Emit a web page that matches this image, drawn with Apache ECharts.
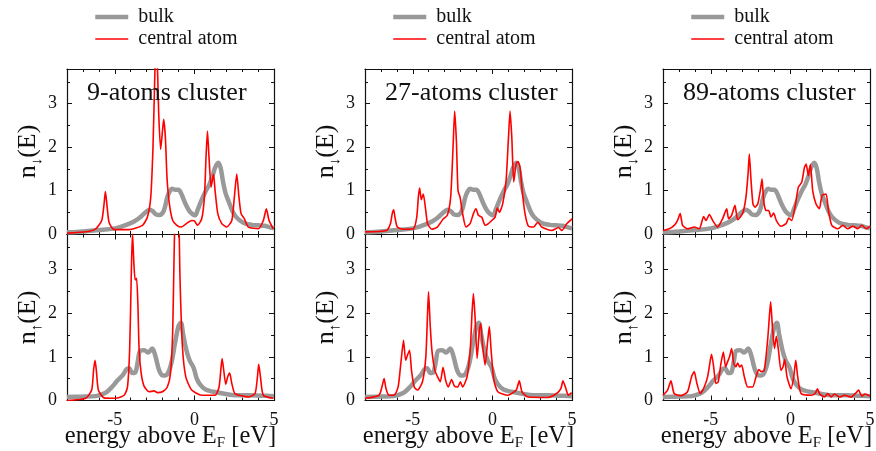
<!DOCTYPE html>
<html>
<head>
<meta charset="utf-8">
<script src="https://cdn.jsdelivr.net/npm/echarts@6/dist/echarts.min.js"></script>
<style>
html, body { margin: 0; padding: 0; background: #fff; }
#chart-container { width: 876px; height: 451px; }
</style>
</head>
<body>
<div id="chart-container"></div>
<script>
// panel labels and ticks
const clusterNames = ['9-atoms cluster', '27-atoms cluster', '89-atoms cluster'];
const xMajorTicks = [-5, 0, 5];
const xMinorTicks = [-7, -6, -4, -3, -2, -1, 1, 2, 3, 4];
const yMajorTicks = [0, 1, 2, 3];
const yMinorTicks = [0.5, 1.5, 2.5, 3.5];

// bulk DOS (same reference in every column), [energy, n]
const bulkDown = [[-8,0.04],[-7,0.06],[-6,0.09],[-5,0.13],[-4.5,0.18],[-4,0.25],[-3.6,0.33],[-3.3,0.42],[-3,0.52],[-2.8,0.56],[-2.6,0.52],[-2.4,0.45],[-2.2,0.44],[-2,0.48],[-1.85,0.62],[-1.7,0.85],[-1.55,0.98],[-1.4,1.04],[-1.2,1.02],[-1,1.02],[-0.85,0.95],[-0.7,0.82],[-0.5,0.65],[-0.3,0.52],[-0.1,0.45],[0.05,0.43],[0.2,0.55],[0.45,0.78],[0.7,0.98],[0.95,1.15],[1.15,1.35],[1.3,1.53],[1.5,1.64],[1.65,1.52],[1.8,1.2],[1.95,0.95],[2.15,0.75],[2.4,0.52],[2.6,0.4],[2.9,0.3],[3.2,0.24],[3.6,0.21],[4,0.2],[4.4,0.19],[4.7,0.16],[5,0.13]];
const bulkUp = [[-8,0.08],[-7,0.09],[-6.2,0.1],[-5.6,0.17],[-5.2,0.3],[-4.85,0.45],[-4.5,0.58],[-4.25,0.72],[-4.1,0.74],[-3.9,0.63],[-3.7,0.65],[-3.55,0.9],[-3.4,1.14],[-3.15,1.15],[-2.9,1.1],[-2.65,1.19],[-2.45,1.02],[-2.2,0.68],[-1.95,0.57],[-1.7,0.6],[-1.45,0.85],[-1.2,1.35],[-1,1.7],[-0.85,1.78],[-0.7,1.5],[-0.5,1.15],[-0.3,0.92],[-0.05,0.75],[0.15,0.5],[0.35,0.37],[0.7,0.25],[1.2,0.2],[1.8,0.16],[2.6,0.12],[3.5,0.12],[4.2,0.11],[5,0.1]];

// central atom DOS per cluster
const atom9Down = [[-8,0.02],[-6.8,0.05],[-6.2,0.12],[-5.82,0.31],[-5.67,0.7],[-5.59,0.98],[-5.5,0.7],[-5.36,0.27],[-5.04,0.1],[-4.1,0.1],[-3.26,0.2],[-2.95,0.39],[-2.74,0.85],[-2.6,2.0],[-2.5,3.44],[-2.4,4.6],[-2.3,3.6],[-2.24,2.76],[-2.12,1.95],[-2.04,2.22],[-1.93,2.64],[-1.82,2.22],[-1.72,1.3],[-1.57,0.69],[-1.36,0.31],[-1.1,0.2],[-0.82,0.16],[-0.47,0.25],[-0.15,0.31],[0,0.3],[0.2,0.2],[0.46,0.35],[0.63,0.85],[0.73,1.76],[0.82,2.37],[0.92,1.76],[1.05,1.08],[1.2,1.38],[1.3,1.0],[1.47,0.47],[1.72,0.24],[2.03,0.16],[2.35,0.31],[2.51,0.85],[2.66,1.38],[2.8,0.85],[2.93,0.47],[3.14,0.35],[3.39,0.16],[4.02,0.12],[4.33,0.31],[4.52,0.58],[4.69,0.31],[4.96,0.12]];
const atom9Up = [[-8,0.0],[-6.83,0.05],[-6.45,0.24],[-6.33,0.7],[-6.24,0.92],[-6.16,0.7],[-6.03,0.24],[-5.67,0.06],[-4.94,0.05],[-4.41,0.12],[-4.2,0.31],[-4.06,1.23],[-3.97,2.76],[-3.89,3.85],[-3.8,3.14],[-3.72,2.76],[-3.63,2.8],[-3.55,2.22],[-3.47,1.15],[-3.34,0.62],[-3.16,0.33],[-2.84,0.2],[-2.53,0.22],[-2.32,0.18],[-2.01,0.2],[-1.7,0.31],[-1.5,0.62],[-1.36,1.61],[-1.26,3.6],[-1.12,5.0],[-1.0,4.6],[-0.9,2.76],[-0.75,1.23],[-0.54,0.54],[-0.17,0.24],[0.46,0.12],[1.3,0.12],[1.55,0.31],[1.66,0.7],[1.74,0.96],[1.84,0.7],[1.97,0.37],[2.09,0.54],[2.22,0.63],[2.35,0.39],[2.55,0.16],[3.39,0.08],[3.81,0.16],[3.96,0.54],[4.04,0.83],[4.15,0.54],[4.33,0.12],[4.96,0.05]];
const atom27Down = [[-8,0.05],[-6.65,0.08],[-6.4,0.24],[-6.29,0.47],[-6.2,0.56],[-6.12,0.39],[-5.97,0.16],[-5.6,0.11],[-4.96,0.12],[-4.75,0.39],[-4.65,0.85],[-4.57,1.06],[-4.46,0.79],[-4.34,0.92],[-4.21,0.62],[-4.07,0.24],[-3.81,0.11],[-3.46,0.16],[-3.08,0.35],[-2.83,0.43],[-2.62,0.85],[-2.47,2.0],[-2.37,2.83],[-2.26,2.14],[-2.16,1.0],[-2.03,0.85],[-1.87,0.47],[-1.66,0.16],[-1.4,0.24],[-1.19,0.47],[-1.03,0.58],[-0.88,0.43],[-0.67,0.39],[-0.46,0.2],[-0.25,0.24],[-0.04,0.31],[0.17,0.39],[0.31,0.6],[0.44,0.5],[0.65,0.7],[0.86,1.23],[1.01,2.22],[1.11,2.83],[1.22,2.22],[1.34,1.2],[1.49,1.61],[1.61,1.67],[1.74,1.53],[1.87,1.0],[2.05,0.47],[2.26,0.18],[2.58,0.16],[2.85,0.27],[3.1,0.16],[3.73,0.08],[4.15,0.15],[4.36,0.08],[4.68,0.24],[5,0.35]];
const atom27Up = [[-8,0.05],[-7.12,0.12],[-6.91,0.35],[-6.8,0.5],[-6.68,0.27],[-6.49,0.12],[-6.17,0.12],[-5.92,0.31],[-5.75,0.85],[-5.58,1.38],[-5.45,0.92],[-5.33,1.04],[-5.2,1.15],[-5.08,0.69],[-4.91,0.31],[-4.7,0.24],[-4.39,0.43],[-4.18,1.0],[-4.07,2.0],[-4.01,2.49],[-3.9,1.69],[-3.78,1.08],[-3.61,0.69],[-3.44,0.54],[-3.27,0.43],[-3.1,0.76],[-2.94,0.47],[-2.77,0.31],[-2.56,0.48],[-2.39,0.33],[-2.18,0.31],[-2.01,0.43],[-1.87,0.31],[-1.59,0.54],[-1.38,1.23],[-1.28,2.0],[-1.19,2.45],[-1.09,1.92],[-0.96,0.96],[-0.82,1.61],[-0.73,1.76],[-0.63,1.3],[-0.46,0.81],[-0.29,1.38],[-0.19,1.69],[-0.08,1.15],[0.09,0.47],[0.34,0.2],[0.97,0.12],[1.5,0.24],[1.69,0.45],[1.86,0.2],[2.24,0.08],[3.5,0.07],[4.03,0.16],[4.3,0.27],[4.43,0.45],[4.6,0.29],[4.77,0.12],[4.98,0.18]];
const atom89Down = [[-8,0.08],[-7.61,0.12],[-7.3,0.2],[-7.09,0.31],[-6.92,0.47],[-6.77,0.2],[-6.46,0.12],[-6.04,0.16],[-5.72,0.12],[-5.45,0.4],[-5.3,0.31],[-5.09,0.45],[-4.88,0.31],[-4.57,0.16],[-4.26,0.35],[-4.0,0.58],[-3.88,0.35],[-3.69,0.43],[-3.48,0.66],[-3.31,0.33],[-3.0,0.47],[-2.79,0.85],[-2.66,1.38],[-2.58,1.84],[-2.47,1.23],[-2.35,0.69],[-2.22,0.62],[-2.05,0.69],[-1.89,1.0],[-1.78,1.27],[-1.68,0.77],[-1.53,0.54],[-1.36,0.54],[-1.22,0.39],[-1.05,0.48],[-0.88,0.31],[-0.59,0.18],[-0.27,0.24],[-0.1,0.37],[0.08,0.31],[0.29,0.62],[0.5,1.08],[0.71,1.19],[0.88,1.53],[0.99,1.61],[1.13,1.34],[1.26,1.6],[1.4,1.0],[1.61,0.69],[1.82,0.58],[1.99,0.89],[2.24,0.92],[2.39,0.54],[2.6,0.2],[2.98,0.12],[3.29,0.2],[3.61,0.12],[3.92,0.18],[4.23,0.12],[4.49,0.2],[4.76,0.12],[5,0.18]];
const atom89Up = [[-8,0.12],[-7.71,0.24],[-7.5,0.45],[-7.3,0.16],[-6.88,0.11],[-6.46,0.2],[-6.21,0.54],[-6.04,0.66],[-5.87,0.39],[-5.66,0.16],[-5.41,0.31],[-5.2,0.54],[-5.03,0.92],[-4.95,1.06],[-4.82,0.77],[-4.68,0.39],[-4.53,0.43],[-4.36,0.85],[-4.21,1.11],[-4.07,0.77],[-3.94,0.89],[-3.82,1.0],[-3.69,1.19],[-3.56,0.85],[-3.42,0.77],[-3.31,0.86],[-3.19,0.77],[-3.06,0.81],[-2.89,0.54],[-2.68,0.31],[-2.37,0.31],[-2.16,0.54],[-1.99,0.71],[-1.84,0.66],[-1.64,0.69],[-1.43,1.38],[-1.32,1.92],[-1.24,2.26],[-1.13,1.69],[-1.0,1.19],[-0.88,1.47],[-0.75,1.15],[-0.59,0.69],[-0.46,0.77],[-0.36,0.94],[-0.21,0.54],[0.04,0.27],[0.21,0.54],[0.34,0.92],[0.46,0.54],[0.67,0.16],[1.3,0.12],[1.55,0.16],[1.7,0.27],[1.84,0.15],[2.14,0.08],[2.35,0.16],[2.56,0.08],[2.77,0.15],[3.08,0.08],[3.4,0.12],[3.82,0.08],[4.13,0.18],[4.28,0.24],[4.49,0.1],[4.7,0.15],[5,0.1]];

const atomDown = [atom9Down, atom27Down, atom89Down];
const atomUp = [atom9Up, atom27Up, atom89Up];

const FONT = '"Liberation Serif", "DejaVu Serif", serif';
const colLeft = [67, 365, 663];
const rowTop = [69, 234.5];
const rowHeight = [165, 166];
const plotWidth = 207;

var myChart = echarts.init(document.getElementById('chart-container'));

var grids = [], xAxes = [], yAxes = [], series = [], titles = [], legends = [];

var frameLine = { show: true, onZero: false, lineStyle: { color: '#111', width: 1.2 } };
var noLine = { show: false, onZero: false };

// one axis per side for the long ticks, one more for the short ticks
function xAxisFor(g, pos, ticks, len, main, labels, name) {
    return {
        gridIndex: g, type: 'value', min: -8, max: 5, position: pos,
        axisLine: main ? frameLine : noLine,
        axisTick: { show: true, inside: true, length: len, customValues: ticks, lineStyle: { color: '#111', width: 1 } },
        axisLabel: { show: labels, customValues: ticks, margin: 11, color: '#111', fontFamily: FONT, fontSize: 18 },
        splitLine: { show: false },
        name: name || '',
        nameLocation: 'middle', nameGap: 23, nameMoveOverlap: false,
        nameTextStyle: {
            rich: {
                n: { fontFamily: FONT, fontSize: 24.5, lineHeight: 27, color: '#111' },
                s: { fontFamily: FONT, fontSize: 15, lineHeight: 15, verticalAlign: 'bottom', color: '#111' }
            }
        }
    };
}
function yAxisFor(g, pos, ticks, len, main, labels, name) {
    return {
        gridIndex: g, type: 'value', min: 0, max: 3.8, position: pos,
        axisLine: main ? frameLine : noLine,
        axisTick: { show: true, inside: true, length: len, customValues: ticks, lineStyle: { color: '#111', width: 1 } },
        axisLabel: { show: labels, customValues: ticks, margin: 10, color: '#111', fontFamily: FONT, fontSize: 18 },
        splitLine: { show: false },
        name: name || '',
        nameLocation: 'middle', nameGap: 22, nameRotate: 90, nameMoveOverlap: false,
        nameTextStyle: {
            rich: {
                n: { fontFamily: FONT, fontSize: 26, lineHeight: 34, color: '#111' },
                s: { fontFamily: FONT, fontSize: 15, lineHeight: 15, verticalAlign: 'bottom', color: '#111' }
            }
        }
    };
}

for (let c = 0; c < 3; c++) {
    for (let r = 0; r < 2; r++) {
        const g = grids.length;
        grids.push({ left: colLeft[c], top: rowTop[r], width: plotWidth, height: rowHeight[r], outerBoundsMode: 'none' });

        const xName = r === 1 ? '{n|energy above E}{s|F}{n| [eV]}' : '';
        xAxes.push(xAxisFor(g, 'bottom', xMajorTicks, 5, true, r === 1, xName));
        xAxes.push(xAxisFor(g, 'bottom', xMinorTicks, 3, false, false));
        xAxes.push(xAxisFor(g, 'top', xMajorTicks, 5, true, false));
        xAxes.push(xAxisFor(g, 'top', xMinorTicks, 3, false, false));

        const yName = r === 0 ? '{n|n}{s|↓}{n|(E)}' : '{n|n}{s|↑}{n|(E)}';
        yAxes.push(yAxisFor(g, 'left', yMajorTicks, 5, true, true, yName));
        yAxes.push(yAxisFor(g, 'left', yMinorTicks, 3, false, false));
        yAxes.push(yAxisFor(g, 'right', yMajorTicks, 5, true, false));
        yAxes.push(yAxisFor(g, 'right', yMinorTicks, 3, false, false));

        series.push({
            name: 'bulk', type: 'line', xAxisIndex: 4 * g, yAxisIndex: 4 * g,
            data: r === 0 ? bulkDown : bulkUp,
            symbol: 'none', smooth: 0.35, silent: true, z: 2,
            lineStyle: { color: '#999999', width: 4.5 }, itemStyle: { color: '#999999' }
        });
        series.push({
            name: 'central atom', type: 'line', xAxisIndex: 4 * g, yAxisIndex: 4 * g,
            data: r === 0 ? atomDown[c] : atomUp[c],
            symbol: 'none', smooth: 0.2, silent: true, z: 3,
            lineStyle: { color: '#ff0000', width: 1.6 }, itemStyle: { color: '#ff0000' }
        });
    }

    titles.push({
        text: clusterNames[c], left: colLeft[c] + 20, top: 80, padding: 0,
        textStyle: { fontFamily: FONT, fontSize: 26, fontWeight: 'normal', color: '#111' }
    });

    legends.push({
        left: colLeft[c] + 26, top: 7, orient: 'vertical',
        itemWidth: 33, itemHeight: 14, itemGap: 2, selectedMode: false, padding: 0,
        itemStyle: { opacity: 0 },
        textStyle: { fontFamily: FONT, fontSize: 20, lineHeight: 20, color: '#111', padding: [0, 0, 0, 5] },
        data: [
            { name: 'bulk', lineStyle: { width: 4.5 } },
            { name: 'central atom', lineStyle: { width: 1.6 } }
        ]
    });
}

var option = {
    animation: false,
    backgroundColor: '#ffffff',
    title: titles,
    legend: legends,
    grid: grids,
    xAxis: xAxes,
    yAxis: yAxes,
    series: series
};

myChart.setOption(option);
</script>
</body>
</html>
